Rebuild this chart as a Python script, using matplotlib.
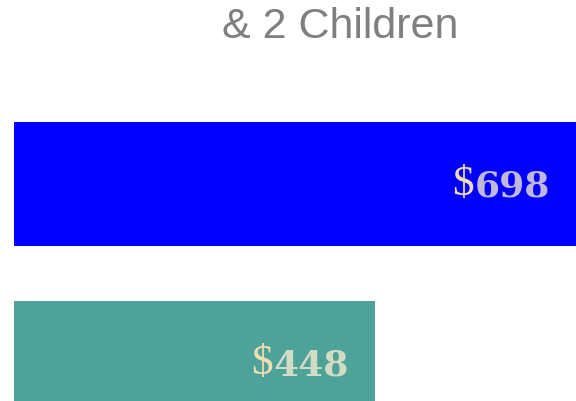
import matplotlib.pyplot as plt

# data
categories = ["Family", "Single"]
values = [698, 448]
labels = ["$698", "$448"]
bar_colors = ["#0000ff", "#4da399"]

W, H, DPI = 576, 402, 100
fig = plt.figure(figsize=(W / DPI, H / DPI), dpi=DPI, facecolor="white")

# axes span from the bar baseline to the right edge, full height
ax = fig.add_axes([14 / W, 0, 1 - 14 / W, 1])
ypos = list(range(len(categories)))
ax.barh(ypos, values, height=0.693, color=bar_colors)
ax.set_xlim(0, 698)
ax.set_ylim(1 + 38 / 179, -185 / 179)
ax.axis("off")

fig.text(340 / W, 1 - 27 / H, "& 2 Children", ha="center", va="center",
         fontsize=31, color="#7f7f7f", family="Liberation Sans")

fig.canvas.draw()
renderer = fig.canvas.get_renderer()
for y, v, lab in zip(ypos, values, labels):
    x_end = v - 26 * 698 / 562
    digits = ax.text(x_end, y + 0.01, lab[1:], ha="right", va="center", fontsize=26,
                     family="DejaVu Serif", weight="bold", color="#f8ecd0",
                     alpha=0.78)
    bb = digits.get_window_extent(renderer)
    x_left = ax.transData.inverted().transform((bb.x0, 0))[0]
    ax.text(x_left - 1, y, lab[0], ha="right", va="center", fontsize=31,
            family="Liberation Serif", color="#f2ddb0")

fig.savefig("out.png", dpi=DPI, facecolor="white")
